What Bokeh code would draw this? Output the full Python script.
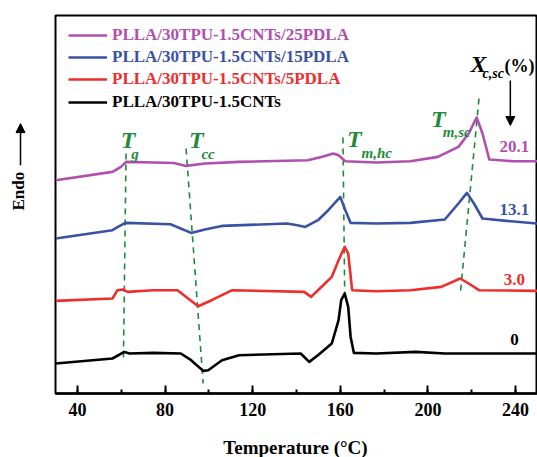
import math
from bokeh.plotting import figure
from bokeh.layouts import row, column
from bokeh.models import Range1d, SingleIntervalTicker, Label, Arrow, NormalHead, Legend, LegendItem
from bokeh.embed import file_html
from bokeh.resources import INLINE

# ---- data (temperature in degC, heat flow in arbitrary units, curves offset) ----
temp_0 = [30.1, 56.0, 61.4, 63.8, 74.7, 87.2, 91.9, 97.4, 99.7, 106.0, 113.8, 141.9, 145.8,
          149.8, 156.1, 159.2, 160.4, 162.0, 163.6, 164.7, 166.2, 176.4, 194.4, 207.7, 250.0]
heat_0 = [30.0, 35.0, 41.6, 40.0, 40.6, 40.0, 33.3, 22.6, 23.3, 33.3, 38.3, 40.0, 31.6,
          38.3, 50.0, 73.3, 93.3, 100.0, 86.6, 56.6, 40.6, 40.0, 41.6, 40.0, 40.0]

temp_5 = [30.1, 56.0, 58.3, 60.6, 63.0, 74.7, 85.7, 95.1, 101.3, 110.7, 143.5, 146.7, 149.8,
          156.1, 159.2, 162.0, 163.6, 165.4, 176.4, 192.0, 206.1, 214.7, 218.6, 223.3, 250.0]
heat_5 = [92.6, 95.0, 103.3, 104.0, 101.6, 103.3, 103.3, 87.3, 93.3, 103.3, 101.6, 96.6, 103.3,
          116.6, 133.3, 146.6, 140.0, 103.3, 102.3, 103.3, 106.6, 115.0, 110.0, 103.3, 102.6]

temp_15 = [30.1, 56.0, 59.1, 61.9, 82.5, 91.9, 98.2, 106.0, 135.7, 140.4, 144.0, 149.8, 154.5,
           160.0, 162.3, 164.7, 176.4, 192.0, 207.7, 213.9, 217.8, 221.0, 224.9, 235.8, 250.0]
heat_15 = [155.0, 163.3, 167.3, 170.6, 169.3, 160.6, 164.0, 167.6, 170.0, 168.3, 166.6, 173.3, 183.3,
           196.6, 183.3, 170.6, 170.0, 170.6, 174.0, 190.0, 200.6, 190.0, 175.0, 172.6, 170.0]

temp_25 = [30.1, 56.0, 59.9, 62.2, 74.7, 84.0, 89.6, 98.2, 113.8, 145.1, 151.4, 156.8, 159.2,
           162.3, 176.4, 192.0, 204.5, 213.9, 218.6, 222.2, 224.9, 228.0, 238.9, 250.0]
heat_25 = [213.3, 221.6, 226.6, 231.6, 231.0, 230.5, 227.6, 230.0, 231.6, 233.3, 236.6, 240.0, 238.3,
           232.3, 231.0, 232.3, 236.6, 246.6, 260.0, 276.0, 260.0, 234.0, 232.3, 232.3]

names = ["PLLA/30TPU-1.5CNTs/25PDLA", "PLLA/30TPU-1.5CNTs/15PDLA",
         "PLLA/30TPU-1.5CNTs/5PDLA", "PLLA/30TPU-1.5CNTs"]
xc_sc = ["20.1", "13.1", "3.0", "0"]
colors = ["#b04fae", "#3a52a4", "#ee2d2d", "#000000"]
series_t = [temp_25, temp_15, temp_5, temp_0]
series_h = [heat_25, heat_15, heat_5, heat_0]

# guide lines (x0, y0, x1, y1) for Tg, Tcc, Tm,hc, Tm,sc
guides = [(62.2, 240, 61.0, 33), (89.6, 245, 97.4, 10),
          (161.2, 256, 162.0, 100), (223.3, 295, 214.7, 98)]

GREEN = "#1f8a3a"
SERIF = "Liberation Serif"
TOP_H = 437


def blank(w, h):
    f = figure(width=w, height=h, output_backend="svg", toolbar_location=None,
               x_range=Range1d(0, w), y_range=Range1d(0, h),
               min_border=0, min_border_left=0, min_border_right=0,
               min_border_top=0, min_border_bottom=0)
    f.axis.visible = False
    f.grid.visible = False
    f.outline_line_color = None
    return f


# ---- side panel with the "Endo" label and its arrow ----
side = blank(45, TOP_H)
side.add_layout(Label(x=18, y=TOP_H - 203, text="Endo", angle=math.pi / 2, text_color="black",
                      text_font=SERIF, text_font_style="bold", text_font_size="17px",
                      text_align="center", text_baseline="middle"))
side.add_layout(Arrow(x_start=20, y_start=TOP_H - 173, x_end=20, y_end=TOP_H - 125,
                      line_color="black", line_width=1.5,
                      end=NormalHead(size=9, fill_color="black", line_color="black")))

# ---- bottom strip with the axis title ----
strip = blank(537, 457 - TOP_H)
strip.add_layout(Label(x=295, y=(457 - TOP_H) / 2, text="Temperature (\u00b0C)", text_color="black",
                       text_font=SERIF, text_font_style="bold", text_font_size="19px",
                       text_align="center", text_baseline="middle"))

# ---- main plot ----
p = figure(width=492, height=TOP_H, output_backend="svg", toolbar_location=None,
           x_range=Range1d(30, 250), y_range=Range1d(0, 378),
           min_border_left=10, min_border_right=0, min_border_top=15, min_border_bottom=44)
p.grid.visible = False
p.outline_line_color = "black"
p.outline_line_width = 2
p.yaxis.visible = False

xa = p.xaxis[0]
xa.ticker = SingleIntervalTicker(interval=40, num_minor_ticks=2)
xa.axis_line_width = 2.5
xa.major_tick_in = 8
xa.major_tick_out = 0
xa.minor_tick_in = 4
xa.minor_tick_out = 0
xa.major_tick_line_width = 2
xa.minor_tick_line_width = 2
xa.major_label_text_font = SERIF
xa.major_label_text_font_style = "bold"
xa.major_label_text_font_size = "18px"
xa.major_label_text_color = "black"
xa.major_label_standoff = 9

# guide dashed lines
for g in guides:
    p.line([g[0], g[2]], [g[1], g[3]], line_color=GREEN, line_width=1.6, line_dash="6 5")

# curves + individual legends (each label in its own colour)
leg_y = [348, 326, 304, 281]
for t, h, c, n, ly in zip(series_t, series_h, colors, names, leg_y):
    r = p.line(t, h, line_color=c, line_width=2.6, line_join="round")
    leg = Legend(items=[LegendItem(label=n, renderers=[r])], location=(13, ly),
                 background_fill_alpha=0, border_line_color=None, padding=0, margin=0,
                 spacing=0, glyph_width=39, glyph_height=20, label_height=20,
                 label_standoff=5, label_text_color=c, label_text_font=SERIF,
                 label_text_font_style="bold", label_text_font_size="17px")
    p.add_layout(leg)

# Xc,sc values
val_y = [247, 184, 114, 54]
for v, c, vy in zip(xc_sc, colors, val_y):
    p.add_layout(Label(x=239.5, y=vy, text=v, text_color=c, text_font=SERIF,
                       text_font_style="bold", text_font_size="17px",
                       text_align="center", text_baseline="middle"))


def lab(x, y, text, color=GREEN, size="24px", style="bold italic"):
    p.add_layout(Label(x=x, y=y, text=text, text_color=color, text_font=SERIF,
                       text_font_style=style, text_font_size=size,
                       text_baseline="middle"))


lab(59.8, 253.4, "T")
lab(64.6, 240.0, "g", size="15px")
lab(90.9, 253.4, "T")
lab(96.6, 240.0, "cc", size="15px")
lab(163.1, 254.4, "T")
lab(169.7, 241.0, "m,hc", size="15px")
lab(201.4, 274.7, "T")
lab(206.8, 261.3, "m,sc", size="15px")
lab(219.4, 329.4, "X", color="black")
lab(224.9, 320.0, "c,sc", color="black", size="14px")
lab(234.9, 328.0, "(%)", color="black", size="18px", style="bold")

# arrow pointing to the Xc,sc values
p.add_layout(Arrow(x_start=237.6, y_start=313, x_end=237.6, y_end=268,
                   line_color="black", line_width=1.5,
                   end=NormalHead(size=9, fill_color="black", line_color="black")))

layout = column(row(side, p, spacing=0), strip, spacing=0)
open("out.html", "w").write(file_html(layout, INLINE))
